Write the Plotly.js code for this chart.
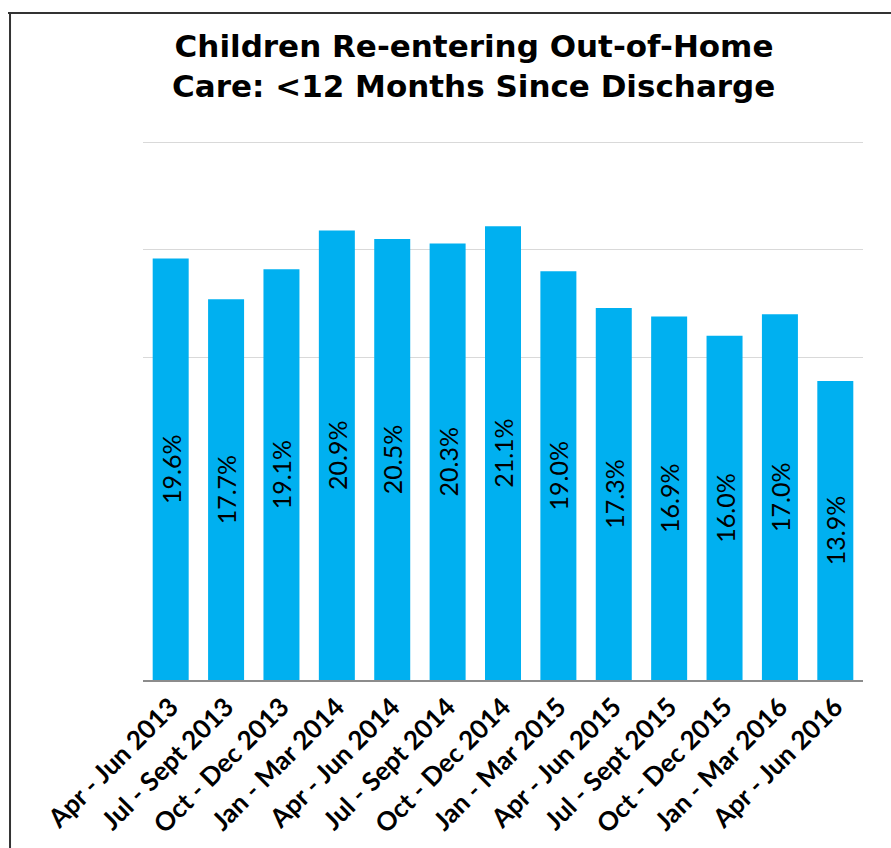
<!DOCTYPE html>
<html>
<head>
<meta charset="utf-8">
<script src="https://cdn.plot.ly/plotly-3.0.1.min.js"></script>
<style>
  html, body { margin: 0; padding: 0; background: #ffffff; }
  #chart { width: 891px; height: 848px; }
</style>
</head>
<body>
<div id="chart"></div>
<script>
const titleLine1 = "Children Re-entering Out-of-Home";
const titleLine2 = "Care: <12 Months Since Discharge";
const categories = [
  "Apr - Jun 2013", "Jul - Sept 2013", "Oct - Dec 2013", "Jan - Mar 2014",
  "Apr - Jun 2014", "Jul - Sept 2014", "Oct - Dec 2014", "Jan - Mar 2015",
  "Apr - Jun 2015", "Jul - Sept 2015", "Oct - Dec 2015", "Jan - Mar 2016",
  "Apr - Jun 2016"
];
const values = [19.6, 17.7, 19.1, 20.9, 20.5, 20.3, 21.1, 19.0, 17.3, 16.9, 16.0, 17.0, 13.9];
const labels = values.map(v => v.toFixed(1) + "%");
const gridValues = [15, 20, 25];

const titleFont = { family: "'DejaVu Sans', sans-serif", size: 31, color: "#000000", weight: "bold" };

const trace = {
  type: "bar",
  x: categories,
  y: values,
  text: labels,
  textposition: "inside",
  insidetextanchor: "middle",
  textangle: -90,
  textfont: { family: "Lato, 'DejaVu Sans', sans-serif", size: 25, color: "#000000" },
  marker: { color: "#00B0F0", line: { width: 0 } },
  hoverinfo: "none"
};

const layout = {
  width: 891,
  height: 848,
  margin: { l: 143, r: 28, t: 138, b: 168 },
  paper_bgcolor: "#ffffff",
  plot_bgcolor: "#ffffff",
  showlegend: false,
  bargap: 0.35,
  title: {
    text: titleLine1,
    font: titleFont,
    x: 0.532,
    xanchor: "center",
    xref: "container",
    y: 0.9458,
    yanchor: "middle",
    yref: "container"
  },
  annotations: [
    {
      text: titleLine2,
      font: titleFont,
      xref: "paper", yref: "paper",
      x: 0.4597, y: 1.0959,
      xanchor: "center", yanchor: "middle",
      showarrow: false
    }
  ],
  xaxis: {
    type: "category",
    tickangle: -45,
    tickfont: { family: "Lato, 'DejaVu Sans', sans-serif", size: 26, color: "#000000", weight: "bold" },
    showline: true,
    linecolor: "#8c8c8c",
    linewidth: 1.5,
    ticks: "",
    showgrid: false,
    fixedrange: true
  },
  yaxis: {
    range: [0, 25.2],
    tickvals: gridValues,
    showticklabels: false,
    showgrid: true,
    gridcolor: "#d9d9d9",
    gridwidth: 1,
    zeroline: false,
    showline: false,
    ticks: "",
    fixedrange: true
  },
  shapes: [
    { type: "line", xref: "paper", yref: "paper", x0: -0.1875, x1: 1.05, y0: 1.2306, y1: 1.2306,
      line: { color: "#333333", width: 2 } },
    { type: "line", xref: "paper", yref: "paper", x0: -0.1847, x1: -0.1847, y0: 1.2306, y1: -0.35,
      line: { color: "#333333", width: 2 } }
  ]
};

Plotly.newPlot("chart", [trace], layout, { staticPlot: true, displayModeBar: false });
</script>
</body>
</html>
